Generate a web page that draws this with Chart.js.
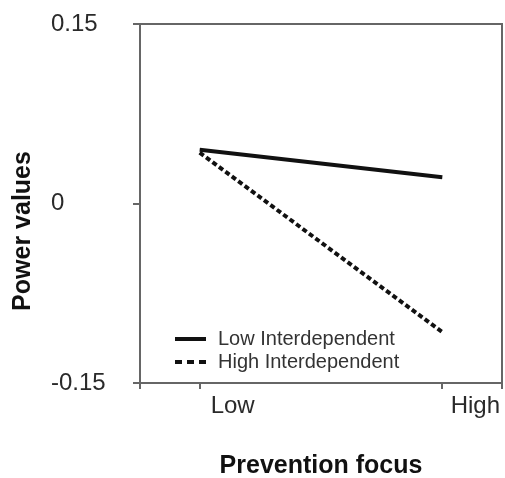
<!DOCTYPE html>
<html>
<head>
<meta charset="utf-8">
<script src="https://cdn.jsdelivr.net/npm/chart.js@4/dist/chart.umd.min.js"></script>
<style>
  html, body { margin: 0; padding: 0; background: #fff; }
  canvas { display: block; }
</style>
</head>
<body>
<canvas id="chart" width="505" height="478"></canvas>
<script>
const categories = ["Low", "High"];
const lowInterdependent = [0.045, 0.022];
const highInterdependent = [0.0425, -0.1075];
const yTicks = [-0.15, 0, 0.15];
const seriesNames = ["Low Interdependent", "High Interdependent"];

const axisColor = "#666";
const textColor = "#2a2a2a";

// draws top and right edges of the box
const framePlugin = {
  id: "frame",
  afterDraw(chart) {
    const { ctx, chartArea: a } = chart;
    ctx.save();
    ctx.strokeStyle = axisColor;
    ctx.lineWidth = 2;
    ctx.beginPath();
    ctx.moveTo(a.left, a.top);
    ctx.lineTo(a.right, a.top);
    ctx.lineTo(a.right, a.bottom);
    ctx.stroke();
    ctx.restore();
  }
};

// y title sits a bit below the axis middle in the original
const yTitlePlugin = {
  id: "yTitle",
  afterDraw(chart) {
    const ctx = chart.ctx;
    ctx.save();
    ctx.translate(23, 231);
    ctx.rotate(-Math.PI / 2);
    ctx.font = "bold 25px 'Liberation Sans', Arial, sans-serif";
    ctx.fillStyle = "#111";
    ctx.textAlign = "center";
    ctx.textBaseline = "middle";
    ctx.fillText("Power values", 0, 0);
    ctx.restore();
  }
};

// legend inside the plot, bottom left
const insideLegend = {
  id: "insideLegend",
  afterDraw(chart) {
    const { ctx, chartArea: a } = chart;
    const dashes = [[], [7, 5]];
    ctx.save();
    ctx.font = "20px 'Liberation Sans', Arial, sans-serif";
    ctx.textBaseline = "middle";
    chart.data.datasets.forEach((ds, i) => {
      const y = a.bottom - 44 + i * 23;
      ctx.strokeStyle = ds.borderColor;
      ctx.lineWidth = 4;
      ctx.setLineDash(dashes[i]);
      ctx.beginPath();
      ctx.moveTo(a.left + 35, y);
      ctx.lineTo(a.left + 66, y);
      ctx.stroke();
      ctx.fillStyle = "#333";
      ctx.fillText(ds.label, a.left + 78, y);
    });
    ctx.restore();
  }
};

const toPoints = arr => arr.map((v, i) => ({ x: i, y: v }));

new Chart(document.getElementById("chart"), {
  type: "line",
  data: {
    datasets: [
      {
        label: seriesNames[0],
        data: toPoints(lowInterdependent),
        borderColor: "#111",
        borderWidth: 4,
        pointRadius: 0
      },
      {
        label: seriesNames[1],
        data: toPoints(highInterdependent),
        borderColor: "#111",
        borderWidth: 4,
        borderDash: [5, 3],
        pointRadius: 0
      }
    ]
  },
  options: {
    responsive: false,
    animation: false,
    devicePixelRatio: 1,
    layout: { padding: { left: 51, top: 24, right: 2, bottom: 0 } },
    plugins: {
      legend: { display: false },
      tooltip: { enabled: false }
    },
    scales: {
      x: {
        type: "linear",
        min: -0.246,
        max: 1.246,
        afterBuildTicks: scale => {
          scale.ticks = [scale.min, 0, 1, scale.max].map(v => ({ value: v }));
        },
        afterFit: scale => { scale.height = 95; },
        grid: { drawOnChartArea: false, tickLength: 6, color: axisColor, lineWidth: 2 },
        border: { color: axisColor, width: 2 },
        ticks: {
          autoSkip: false,
          maxRotation: 0,
          padding: 3,
          labelOffset: 33,
          color: textColor,
          font: { family: "'Liberation Sans', Arial, sans-serif", size: 24 },
          callback: v => categories[v] ?? ""
        },
        title: {
          display: true,
          text: "Prevention focus",
          color: "#111",
          font: { family: "'Liberation Sans', Arial, sans-serif", size: 25, weight: "bold" },
          padding: { top: 0, bottom: -3 }
        }
      },
      y: {
        min: -0.15,
        max: 0.15,
        afterBuildTicks: scale => {
          scale.ticks = yTicks.map(v => ({ value: v }));
        },
        afterFit: scale => { scale.width = 89; },
        grid: { drawOnChartArea: false, tickLength: 7, color: axisColor, lineWidth: 2 },
        border: { color: axisColor, width: 2 },
        ticks: {
          crossAlign: "far",
          color: textColor,
          font: { family: "'Liberation Sans', Arial, sans-serif", size: 24 },
          callback: v => (v === 0 ? "0" : v.toFixed(2))
        }
      }
    }
  },
  plugins: [framePlugin, yTitlePlugin, insideLegend]
});
</script>
</body>
</html>
